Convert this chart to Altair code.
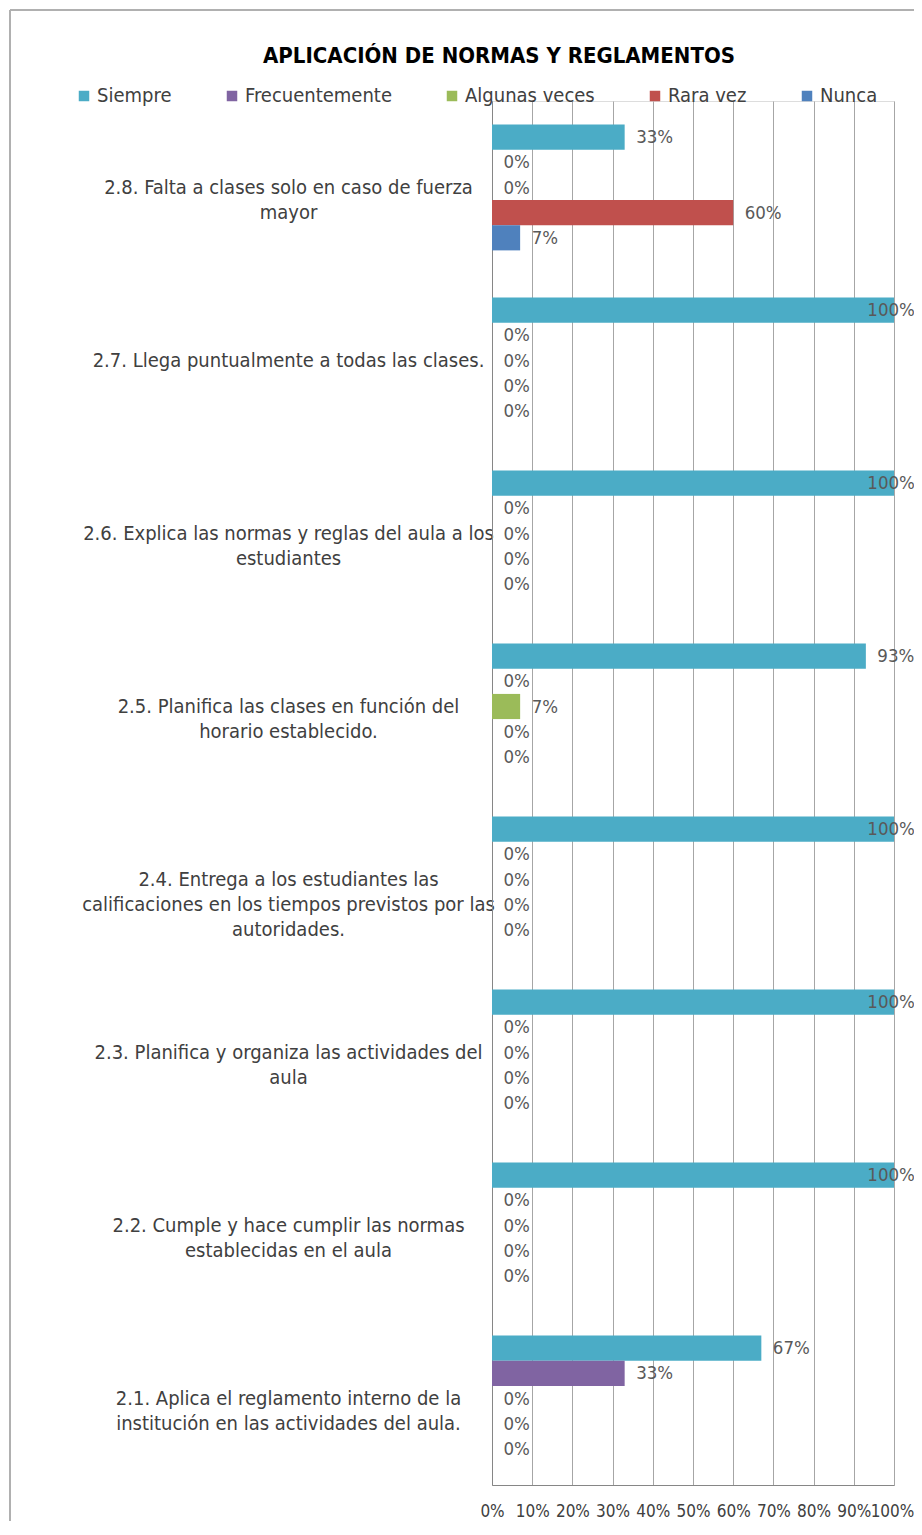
import altair as alt
import pandas as pd

FONT = "Liberation Sans Narrow, DejaVu Sans Condensed, Roboto Condensed, Arial Narrow, sans-serif"

title_text = "APLICACIÓN DE NORMAS Y REGLAMENTOS"

# categories from 2.1 (bottom) to 2.8 (top); '|' marks line breaks
category_labels = [
    "2.1.  Aplica el reglamento interno de la|institución en las actividades del aula.",
    "2.2.  Cumple y hace cumplir  las normas|establecidas en el aula",
    "2.3.  Planifica y organiza las actividades del|aula",
    "2.4.  Entrega a los estudiantes las|calificaciones en los tiempos previstos por las|autoridades.",
    "2.5.  Planifica las clases en función del|horario establecido.",
    "2.6.  Explica las normas y reglas del aula a los|estudiantes",
    "2.7.  Llega puntualmente a todas las clases.",
    "2.8.  Falta a  clases solo en caso de fuerza|mayor",
]

series = ["Siempre", "Frecuentemente", "Algunas veces", "Rara vez", "Nunca"]
colors = ["#4BACC6", "#8064A2", "#9BBB59", "#C0504D", "#4F81BD"]

siempre = [0.67, 1.00, 1.00, 1.00, 0.93, 1.00, 1.00, 0.33]
frecuentemente = [0.33, 0.00, 0.00, 0.00, 0.00, 0.00, 0.00, 0.00]
algunas_veces = [0.00, 0.00, 0.00, 0.00, 0.07, 0.00, 0.00, 0.00]
rara_vez = [0.00, 0.00, 0.00, 0.00, 0.00, 0.00, 0.00, 0.60]
nunca = [0.00, 0.00, 0.00, 0.00, 0.00, 0.00, 0.00, 0.07]

x_ticks = [0.0, 0.1, 0.2, 0.3, 0.4, 0.5, 0.6, 0.7, 0.8, 0.9, 1.0]

values_by_series = [siempre, frecuentemente, algunas_veces, rara_vez, nunca]
rows = []
for s, vals in zip(series, values_by_series):
    for lab, v in zip(category_labels, vals):
        rows.append({"label": lab, "serie": s, "value": v})
df = pd.DataFrame(rows)

W, H = 402, 1384
y_sort = list(reversed(category_labels))

y_enc = alt.Y(
    "label:N",
    sort=y_sort,
    scale=alt.Scale(paddingInner=0.273, paddingOuter=0.1365),
    axis=alt.Axis(
        title=None,
        labelExpr="split(datum.label, '|')",
        labelAlign="center",
        labelBaseline="middle",
        labelPadding=204,
        ticks=False,
        tickSize=0,
        labelLimit=0,
        labelFontSize=20,
        labelLineHeight=25,
        labelColor="#404040",
        labelFont=FONT,
        domainColor="#868686",
        grid=False,
    ),
)
yoff = alt.YOffset("serie:N", sort=series, scale=alt.Scale(domain=series, paddingInner=0, paddingOuter=0))

x_enc = alt.X(
    "value:Q",
    scale=alt.Scale(domain=[0, 1]),
    axis=alt.Axis(
        values=x_ticks,
        format=".0%",
        grid=True,
        gridColor="#a6a6a6",
        title=None,
        labelFontSize=17,
        labelFont=FONT,
        labelPadding=18,
        labelColor="#404040",
        labelOverlap=False,
        labelOffset=alt.ExprRef(expr="datum.value == 1 ? -2 : 0"),
        domainColor="#868686",
        ticks=False,
        tickSize=0,
        labelFlush=False,
    ),
)

base = alt.Chart(df)

bars = base.mark_bar().encode(
    x=x_enc,
    y=y_enc,
    yOffset=yoff,
    color=alt.Color(
        "serie:N",
        sort=series,
        scale=alt.Scale(domain=series, range=colors),
        legend=alt.Legend(
            orient="none",
            legendX=-418,
            legendY=-15,
            direction="horizontal",
            columns=5,
            columnPadding=50,
            title=None,
            labelFontSize=20,
            labelFont=FONT,
            labelColor="#404040",
            symbolType="square",
            symbolSize=110,
            symbolStrokeWidth=0,
            labelOffset=3,
        ),
    ),
)

labels = base.transform_calculate(
    lx="datum.value >= 1 ? 0.905 : min(datum.value, 0.93)"
).mark_text(
    align="left", baseline="middle", dx=11.5, fontSize=18.5, font=FONT, color="#595959"
).encode(
    x=alt.X("lx:Q"),
    y=alt.Y("label:N", sort=y_sort),
    yOffset=alt.YOffset("serie:N", sort=series),
    text=alt.Text("value:Q", format=".0%"),
)

frame_data = alt.Data(values=[{"k": 1}])
frame_left = alt.Chart(frame_data).mark_rule(color="#b0b0b0", strokeWidth=2).encode(
    x=alt.value(-482), y=alt.value(-91), y2=alt.value(H + 60)
)
frame_top = alt.Chart(frame_data).mark_rule(color="#b0b0b0", strokeWidth=2).encode(
    x=alt.value(-482), x2=alt.value(W + 40), y=alt.value(-91)
)

chart = alt.layer(frame_left, frame_top, bars, labels).properties(
    width=W,
    height=H,
    autosize=alt.AutoSizeParams(type="none"),
    padding={"left": 484, "top": 93, "right": 20, "bottom": 36},
    title=alt.TitleParams(
        text=title_text,
        anchor="middle",
        frame="group",
        dx=-194,
        dy=63,
        fontSize=22,
        font=FONT,
        fontWeight="bold",
        color="#000000",
    ),
).configure_view(stroke=None).configure(font=FONT)

chart.save("out.html", embed_options={"renderer": "svg", "actions": False})
